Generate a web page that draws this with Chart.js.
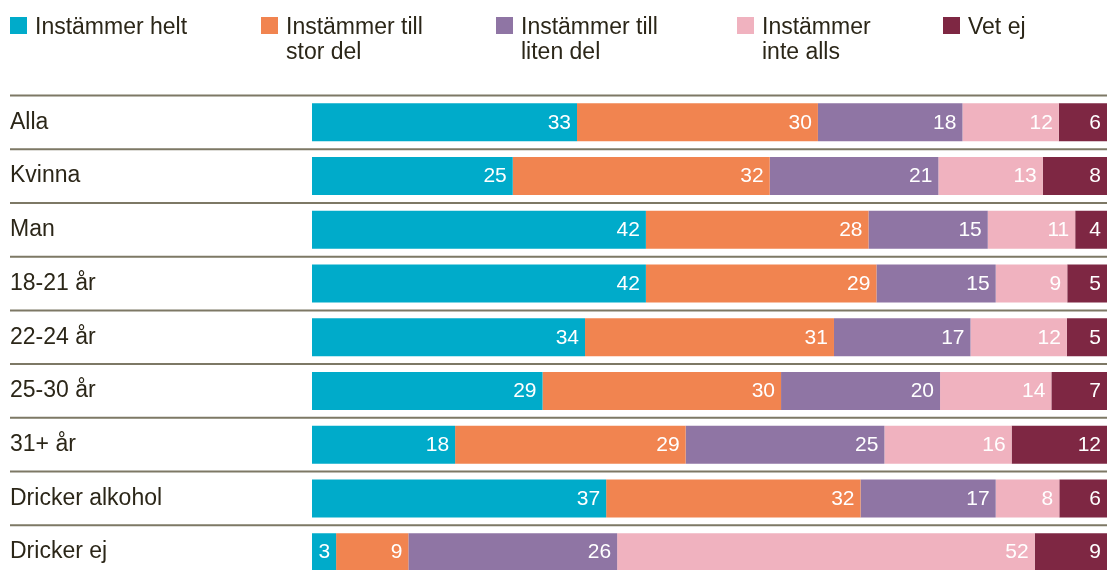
<!DOCTYPE html>
<html>
<head>
<meta charset="utf-8">
<script src="https://cdn.jsdelivr.net/npm/chart.js@4.4.1/dist/chart.umd.min.js"></script>
<style>
  html, body { margin: 0; padding: 0; background: #ffffff; overflow: hidden; }
  #wrap { position: relative; width: 1107px; height: 570px; overflow: hidden; }
  #chartBox { position: absolute; left: 0; top: 0; width: 1107px; height: 579px; }
  .leg { position: absolute; top: 14px; font-family: "Liberation Sans", Arial, sans-serif;
         font-size: 23px; line-height: 25px; color: #2b2618; white-space: nowrap; }
  .leg .sw { position: absolute; left: 0; top: 3px; width: 17px; height: 17px; }
  .leg .tx { position: absolute; top: 0; }
</style>
</head>
<body>
<div id="wrap">
  <div id="chartBox"><canvas id="c"></canvas></div>
  <div id="legend"></div>
</div>
<script>
const categories = ['Alla', 'Kvinna', 'Man', '18-21 år', '22-24 år', '25-30 år', '31+ år', 'Dricker alkohol', 'Dricker ej'];
const seriesNames = [['Instämmer helt'], ['Instämmer till', 'stor del'], ['Instämmer till', 'liten del'], ['Instämmer', 'inte alls'], ['Vet ej']];
const helt  = [33, 25, 42, 42, 34, 29, 18, 37, 3];
const stor  = [30, 32, 28, 29, 31, 30, 29, 32, 9];
const liten = [18, 21, 15, 15, 17, 20, 25, 17, 26];
const inte  = [12, 13, 11, 9, 12, 14, 16, 8, 52];
const vetej = [6, 8, 4, 5, 5, 7, 12, 6, 9];

const colors = ['#00abca', '#f18450', '#8f75a4', '#f0b2bf', '#7e2743'];
const legendX = [10, 261, 496, 737, 943];
const series = [helt, stor, liten, inte, vetej];

// legend (HTML)
const legEl = document.getElementById('legend');
seriesNames.forEach((lines, i) => {
  const d = document.createElement('div');
  d.className = 'leg';
  d.style.left = legendX[i] + 'px';
  const sw = document.createElement('div');
  sw.className = 'sw';
  sw.style.background = colors[i];
  const tx = document.createElement('div');
  tx.className = 'tx';
  tx.style.left = '25px';
  tx.innerHTML = lines.join('<br>');
  d.appendChild(sw); d.appendChild(tx);
  legEl.appendChild(d);
});

// 100% stacked: share of each row total
const totals = categories.map((_, r) => series.reduce((s, arr) => s + arr[r], 0));
const datasets = series.map((arr, i) => ({
  label: seriesNames[i].join(' '),
  data: arr.map((v, r) => v / totals[r] * 100),
  raw: arr,
  backgroundColor: colors[i],
  borderWidth: 0,
  categoryPercentage: 1,
  barPercentage: 0.707
}));

const separators = {
  id: 'separators',
  beforeDatasetsDraw(chart) {
    const y = chart.scales.y, ctx = chart.ctx, area = chart.chartArea;
    const half = (y.getPixelForValue(1) - y.getPixelForValue(0)) / 2;
    ctx.save();
    ctx.strokeStyle = '#7d7865';
    ctx.lineWidth = 2;
    for (let i = 0; i < categories.length; i++) {
      const yy = y.getPixelForValue(i) - half;
      ctx.beginPath();
      ctx.moveTo(10, yy);
      ctx.lineTo(area.right, yy);
      ctx.stroke();
    }
    ctx.restore();
  }
};

const valueLabels = {
  id: 'valueLabels',
  afterDatasetsDraw(chart) {
    const ctx = chart.ctx;
    ctx.save();
    ctx.fillStyle = '#ffffff';
    ctx.font = '21px "Liberation Sans", Arial, sans-serif';
    ctx.textAlign = 'right';
    ctx.textBaseline = 'middle';
    chart.data.datasets.forEach((ds, di) => {
      chart.getDatasetMeta(di).data.forEach((bar, r) => {
        ctx.fillText(String(ds.raw[r]), bar.x - 6, bar.y + 0.5);
      });
    });
    ctx.restore();
  }
};

new Chart(document.getElementById('c'), {
  type: 'bar',
  data: { labels: categories, datasets },
  options: {
    indexAxis: 'y',
    responsive: true,
    maintainAspectRatio: false,
    animation: false,
    layout: { padding: { top: 95.5, left: 10, right: 0, bottom: 0 } },
    plugins: { legend: { display: false }, tooltip: { enabled: false } },
    scales: {
      x: { stacked: true, min: 0, max: 100, display: false },
      y: {
        stacked: true,
        grid: { display: false },
        border: { display: false },
        ticks: {
          crossAlign: 'far',
          color: '#2b2618',
          font: { family: '"Liberation Sans", Arial, sans-serif', size: 23 }
        },
        afterFit(scale) {
          scale.width = 302;
          scale.paddingTop = 0;
          scale.paddingBottom = 0;
        }
      }
    }
  },
  plugins: [separators, valueLabels]
});
</script>
</body>
</html>
